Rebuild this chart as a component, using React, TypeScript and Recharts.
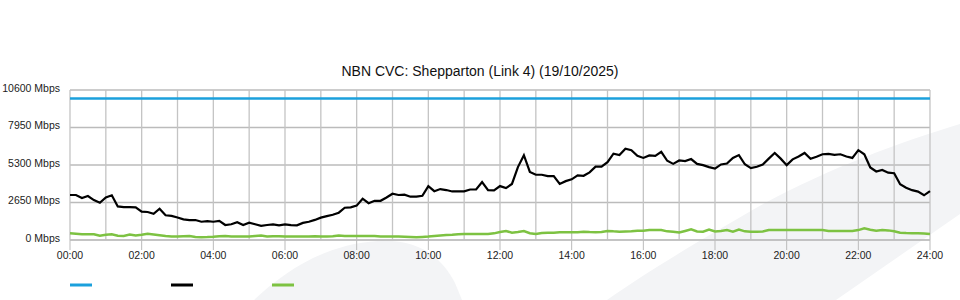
import React from 'react';
import { LineChart, Line, XAxis, YAxis, CartesianGrid, ReferenceLine } from 'recharts';

// 10 minute samples, 00:00 -> 24:00 (145 points)
const trafficMbps = [
  3180, 3180, 2970, 3110, 2820, 2630, 3000, 3160, 2370, 2320, 2320, 2310,
  2000, 1980, 1850, 2210, 1750, 1700, 1590, 1460, 1410, 1410, 1290, 1330,
  1290, 1350, 1060, 1110, 1260, 1060, 1220, 1110, 1000, 1060, 1110, 1040,
  1110, 1050, 1040, 1210, 1290, 1420, 1580, 1690, 1780, 1930, 2280, 2310,
  2430, 2920, 2600, 2770, 2770, 3000, 3270, 3180, 3200, 3060, 3060, 3120,
  3810, 3450, 3600, 3530, 3430, 3440, 3440, 3570, 3570, 4090, 3520, 3500,
  3810, 3670, 3960, 5150, 5990, 4810, 4610, 4610, 4510, 4510, 3960, 4160,
  4290, 4570, 4540, 4780, 5180, 5180, 5500, 6100, 6000, 6450, 6350, 5950,
  5800, 5980, 5950, 6230, 5600, 5380, 5620, 5580, 5720, 5380, 5290, 5150,
  5050, 5340, 5400, 5800, 6000, 5350, 5080, 5180, 5330, 5750, 6150, 5750,
  5290, 5700, 5900, 6150, 5740, 5880, 6060, 6080, 6020, 6060, 5900, 5800,
  6350, 6060, 5130, 4840, 4950, 4760, 4720, 3940, 3690, 3520, 3420, 3160,
  3460,
];

const uploadMbps = [
  470, 440, 400, 400, 400, 310, 370, 400, 300, 290, 390, 320,
  370, 440, 390, 340, 280, 250, 240, 260, 280, 220, 200, 210,
  230, 260, 280, 250, 240, 240, 250, 280, 310, 240, 270, 260,
  240, 240, 240, 240, 240, 270, 240, 240, 270, 310, 290, 280,
  280, 280, 280, 280, 250, 240, 240, 240, 230, 220, 200, 220,
  240, 280, 320, 360, 370, 410, 420, 430, 420, 430, 430, 470,
  560, 640, 520, 560, 630, 480, 430, 490, 520, 520, 540, 540,
  540, 550, 590, 560, 550, 570, 640, 610, 590, 600, 610, 650,
  650, 700, 710, 710, 610, 590, 530, 640, 750, 600, 590, 740,
  600, 640, 700, 590, 730, 610, 590, 590, 600, 700, 710, 710,
  710, 710, 710, 710, 710, 710, 700, 640, 640, 640, 640, 640,
  700, 830, 730, 660, 700, 680, 620, 520, 490, 480, 480, 460,
  420,
];

const capacityMbps = 10000;

const xTicks = [0, 120, 240, 360, 480, 600, 720, 840, 960, 1080, 1200, 1320, 1440];
const hourLines = [0, 60, 120, 180, 240, 300, 360, 420, 480, 540, 600, 660, 720, 780, 840, 900, 960, 1020, 1080, 1140, 1200, 1260, 1320, 1380, 1440];
const yTicks = [0, 2650, 5300, 7950, 10600];

const series = [
  { key: 'capacity', color: '#1ba0dc', width: 2.5 },
  { key: 'traffic', color: '#000000', width: 2.2 },
  { key: 'upload', color: '#7dc242', width: 2.5 },
];

const data = trafficMbps.map((v, i) => ({
  minute: i * 10,
  capacity: capacityMbps,
  traffic: v,
  upload: uploadMbps[i],
}));

const fmtTime = (m: number) => `${String(Math.floor(m / 60)).padStart(2, '0')}:00`;

const font = '"Liberation Sans", Arial, sans-serif';

const YTick = (props: any) => {
  const { x, y, payload } = props;
  return (
    <text x={x} y={y - 2} dy="0.35em" textAnchor="end" fontSize={10.5} fill="#222" fontFamily={font}>
      {`${payload.value} Mbps`}
    </text>
  );
};

export default function App() {
  return (
    <div style={{ position: 'absolute', left: 0, top: 0, width: 960, height: 300, background: '#fff', overflow: 'hidden' }}>
      <svg width={960} height={300} style={{ position: 'absolute', left: 0, top: 0 }}>
        {/* faint watermark shapes */}
        <path d="M254,300 C290,266 330,244 378,241 C420,239 442,258 455,283 L462,300 Z" fill="#f3f4f6" />
        <path d="M607,300 C650,270 700,240 765,203 C830,168 900,142 960,124 L960,214 L836,300 Z" fill="#f3f4f6" />
        <text x={480} y={76} textAnchor="middle" fontFamily={font} fontSize={14} fill="#111">
          NBN CVC: Shepparton (Link 4) (19/10/2025)
        </text>
        {series.map((s, i) => (
          <line key={s.key} x1={70 + i * 101} x2={92 + i * 101} y1={285} y2={285} stroke={s.color} strokeWidth={3} />
        ))}
      </svg>
      <div style={{ position: 'absolute', left: 0, top: 0 }}>
        <LineChart width={960} height={300} data={data} margin={{ top: 90, right: 30, bottom: 30, left: 0 }}>
          <CartesianGrid vertical={false} stroke="#bbbbbb" strokeWidth={1.6} />
          {hourLines.map((m) => (
            <ReferenceLine key={m} x={m} stroke="#c4c4c4" strokeWidth={1.3} />
          ))}
          <XAxis
            type="number"
            dataKey="minute"
            domain={[0, 1440]}
            ticks={xTicks}
            tickFormatter={fmtTime}
            height={30}
            stroke="#bbbbbb"
            tickSize={10}
            tickMargin={2}
            tick={{ fontSize: 10.5, fill: '#222', fontFamily: font }}
          />
          <YAxis
            domain={[0, 10600]}
            ticks={yTicks}
            width={70}
            axisLine={false}
            tickLine={false}
            tickSize={8}
            tickMargin={2}
            tick={<YTick />}
          />
          {series.map((s) => (
            <Line
              key={s.key}
              dataKey={s.key}
              type="linear"
              stroke={s.color}
              strokeWidth={s.width}
              dot={false}
              isAnimationActive={false}
            />
          ))}
        </LineChart>
      </div>
    </div>
  );
}
